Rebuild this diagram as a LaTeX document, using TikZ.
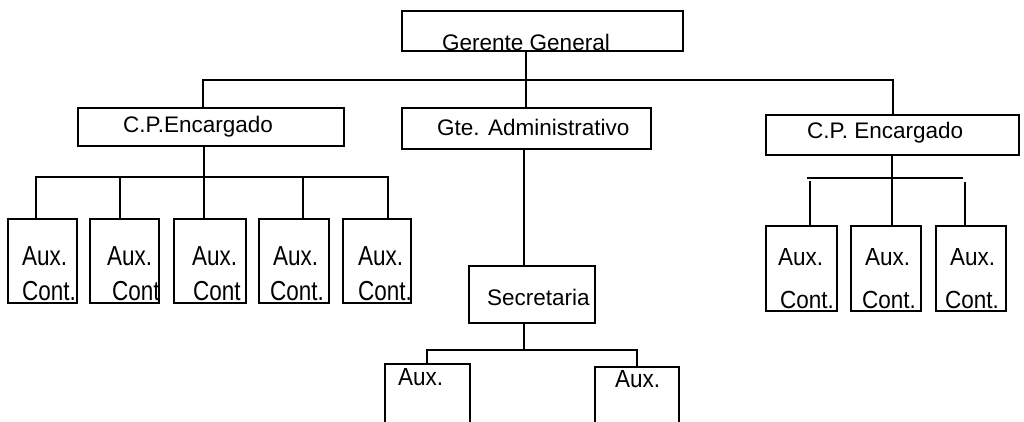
\documentclass[tikz,border=0pt]{standalone}
\usepackage{fontspec}
\setmainfont{Liberation Sans}
\tikzset{
  ln/.style={line width=1.6pt, black},
  box/.style={draw, line width=1.6pt, rectangle, inner sep=0pt, anchor=north west},
  lbl/.style={anchor=base west, inner sep=0pt, font=\fontsize{22.5}{27}\selectfont},
  tall/.style={lbl, yscale=1.22},
  mid/.style={lbl, yscale=1.1},
}
\begin{document}
\begin{tikzpicture}[x=1pt, y=-1pt]
\useasboundingbox (0,0) rectangle (1024,421);
\begin{scope}
\clip (0,0) rectangle (1024,421);
% boxes
\node[box, minimum width=281pt, minimum height=40pt] (gg) at (401,10) {};
\node[box, minimum width=266pt, minimum height=38pt] (cpl) at (77,107) {};
\node[box, minimum width=249pt, minimum height=41pt] (gte) at (401,107) {};
\node[box, minimum width=253pt, minimum height=40pt] (cpr) at (765,114) {};
\node[box, minimum width=126pt, minimum height=57pt] (sec) at (468,265) {};
\node[box, minimum width=69pt, minimum height=84pt] (L1) at (7,218) {};
\node[box, minimum width=69pt, minimum height=84pt] (L2) at (89,218) {};
\node[box, minimum width=72pt, minimum height=84pt] (L3) at (173,218) {};
\node[box, minimum width=70pt, minimum height=84pt] (L4) at (258,218) {};
\node[box, minimum width=68pt, minimum height=84pt] (L5) at (342,218) {};
\node[box, minimum width=71pt, minimum height=85pt] (R1) at (765,225) {};
\node[box, minimum width=70pt, minimum height=85pt] (R2) at (850,225) {};
\node[box, minimum width=70pt, minimum height=85pt] (R3) at (935,225) {};
\node[box, minimum width=85pt, minimum height=80pt] (B1) at (384,363) {};
\node[box, minimum width=84pt, minimum height=80pt] (B2) at (594,366) {};
% top bus
\coordinate (tl) at (203,80);
\coordinate (tm) at (526,80);
\coordinate (tr) at (893,80);
\draw[ln] (gg.south -| tm) -- (tm);
\draw[ln] (cpl.north -| tl) -- (tl) -- (tr) -- (tr |- cpr.north);
\draw[ln] (tm) -- (tm |- gte.north);
% left group
\coordinate (lb) at (204,177);
\coordinate (l1) at (36,177);
\coordinate (l2) at (120,177);
\coordinate (l4) at (303,177);
\coordinate (l5) at (388,177);
\draw[ln] (cpl.south -| lb) -- (lb);
\draw[ln] (l1 |- L1.north) -- (l1) -- (l5) -- (l5 |- L5.north);
\draw[ln] (l2) -- (l2 |- L2.north);
\draw[ln] (lb) -- (lb |- L3.north);
\draw[ln] (l4) -- (l4 |- L4.north);
% middle
\coordinate (mb) at (524,350);
\coordinate (m1) at (427,350);
\coordinate (m2) at (637,350);
\draw[ln] (gte.south -| mb) -- (mb |- sec.north);
\draw[ln] (sec.south -| mb) -- (mb);
\draw[ln] (m1 |- B1.north) -- (m1) -- (m2) -- (m2 |- B2.north);
% right group
\coordinate (rb) at (892,178);
\coordinate (r0) at (807,178);
\coordinate (r1) at (810,181);
\coordinate (r3) at (965,182);
\coordinate (r3e) at (963,178);
\draw[ln] (cpr.south -| rb) -- (rb |- R2.north);
\draw[ln] (r0) -- (r3e);
\draw[ln] (r1) -- (r1 |- R1.north);
\draw[ln] (r3) -- (r3 |- R3.north);
\end{scope}
% labels
\node[lbl] (tgg) at (442,50) {Gerente General};
\node[lbl] (tcpl) at (123,132) {C.P.Encargado};
\node[lbl] (tgte) at (437,135) {Gte. Administrativo};
\node[lbl] (tcpr) at (807,138) {C.P. Encargado};
\node[lbl] (tsec) at (487,305) {Secretaria};
\node[tall] (a1) at (22,265) {Aux.};
\node[tall] (c1) at (22,300) {Cont.};
\node[tall] (a2) at (107,265) {Aux.};
\node[tall] (c2) at (112,300) {Cont};
\node[tall] (a3) at (192,265) {Aux.};
\node[tall] (c3) at (193,300) {Cont};
\node[tall] (a4) at (273,265) {Aux.};
\node[tall] (c4) at (270,300) {Cont.};
\node[tall] (a5) at (358,265) {Aux.};
\node[tall] (c5) at (358,300) {Cont.};
\node[mid] (ra1) at (778,265) {Aux.};
\node[mid] (rc1) at (780,308) {Cont.};
\node[mid] (ra2) at (865,265) {Aux.};
\node[mid] (rc2) at (862,308) {Cont.};
\node[mid] (ra3) at (950,265) {Aux.};
\node[mid] (rc3) at (945,308) {Cont.};
\node[mid] (ba1) at (398,385) {Aux.};
\node[mid] (ba2) at (615,387) {Aux.};
\end{tikzpicture}
\end{document}
